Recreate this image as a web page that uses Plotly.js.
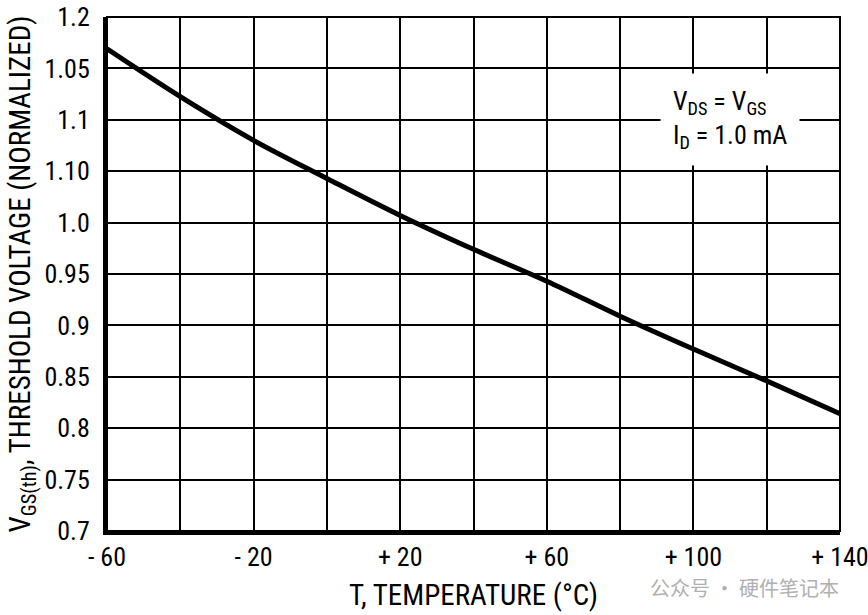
<!DOCTYPE html>
<html>
<head>
<meta charset="utf-8">
<script src="https://cdn.plot.ly/plotly-3.0.1.min.js"></script>
<style>html,body{margin:0;padding:0;background:#fff;}#chart{width:868px;height:615px;}</style>
</head>
<body>
<div id="chart"></div>
<script>
const temperature = [-60, -40, -20, 0, 20, 40, 60, 80, 100, 120, 140];
const vgsNormalized = [1.169, 1.1225, 1.080, 1.043, 1.007, 0.974, 0.943, 0.909, 0.877, 0.846, 0.814];
const xTickVals = [-60, -40, -20, 0, 20, 40, 60, 80, 100, 120, 140];
const xTickText = ['- 60', '', '- 20', '', '+ 20', '', '+ 60', '', '+ 100', '', '+ 140'];
const yTickVals = [0.7, 0.75, 0.8, 0.85, 0.9, 0.95, 1.0, 1.05, 1.1, 1.15, 1.2];
const yTickText = ['0.7', '0.75', '0.8', '0.85', '0.9', '0.95', '1.0', '1.10', '1.1', '1.05', '1.2'];

const FONT = '"Liberation Sans Narrow", "Arial Narrow", "Roboto Condensed", "Liberation Sans", Arial, sans-serif';

const trace = {
  x: temperature, y: vgsNormalized, type: 'scatter', mode: 'lines',
  line: {color: '#000', width: 5, shape: 'spline', smoothing: 1},
  hoverinfo: 'skip'
};

const layout = {
  width: 868, height: 615,
  margin: {l: 107, r: 28, t: 17, b: 84},
  paper_bgcolor: '#fff', plot_bgcolor: '#fff',
  showlegend: false,
  font: {family: FONT, color: '#000', size: 26},
  xaxis: {
    range: [-60, 140], tickmode: 'array', tickvals: xTickVals, ticktext: xTickText,
    showgrid: true, gridcolor: '#000', gridwidth: 2, zeroline: false,
    showline: true, linecolor: '#000', linewidth: 4, ticks: '', ticklabelstandoff: 0,
    ticklabeloverflow: 'allow',
    tickfont: {family: FONT, size: 26},
    title: {text: 'T, TEMPERATURE (°C)', font: {family: FONT, size: 29}, standoff: 14},
    fixedrange: true
  },
  yaxis: {
    range: [0.7, 1.2], tickmode: 'array', tickvals: yTickVals, ticktext: yTickText,
    showgrid: true, gridcolor: '#000', gridwidth: 2, zeroline: false,
    showline: true, linecolor: '#000', linewidth: 4, ticks: '', ticklabelstandoff: 8,
    tickfont: {family: FONT, size: 26},
    title: {text: 'V<sub>GS(th)</sub>, THRESHOLD VOLTAGE (NORMALIZED)', font: {family: FONT, size: 29}, standoff: 6},
    fixedrange: true
  },
  shapes: [
    {type: 'rect', xref: 'paper', yref: 'paper', x0: 0, x1: 1, y0: 0, y1: 1, line: {color: '#000', width: 2}, layer: 'above'}
  ],
  annotations: [
    {xref: 'paper', yref: 'paper', x: 0.85, y: 0.8, xanchor: 'center', yanchor: 'middle',
     text: 'V<sub>DS</sub> = V<sub>GS</sub><br>I<sub>D</sub> = 1.0 mA', showarrow: false,
     align: 'left', bgcolor: '#fff', borderpad: 12, font: {family: FONT, size: 26, color: '#000'}},
    {xref: 'paper', yref: 'paper', x: 1.0, y: -0.11, xanchor: 'right', yanchor: 'middle',
     text: '公众号 · 硬件笔记本', showarrow: false, borderpad: 0,
     font: {family: '"Noto Sans CJK SC", sans-serif', size: 20, color: '#b0b0b0'}}
  ]
};

Plotly.newPlot('chart', [trace], layout, {displayModeBar: false, staticPlot: true});
</script>
</body>
</html>
